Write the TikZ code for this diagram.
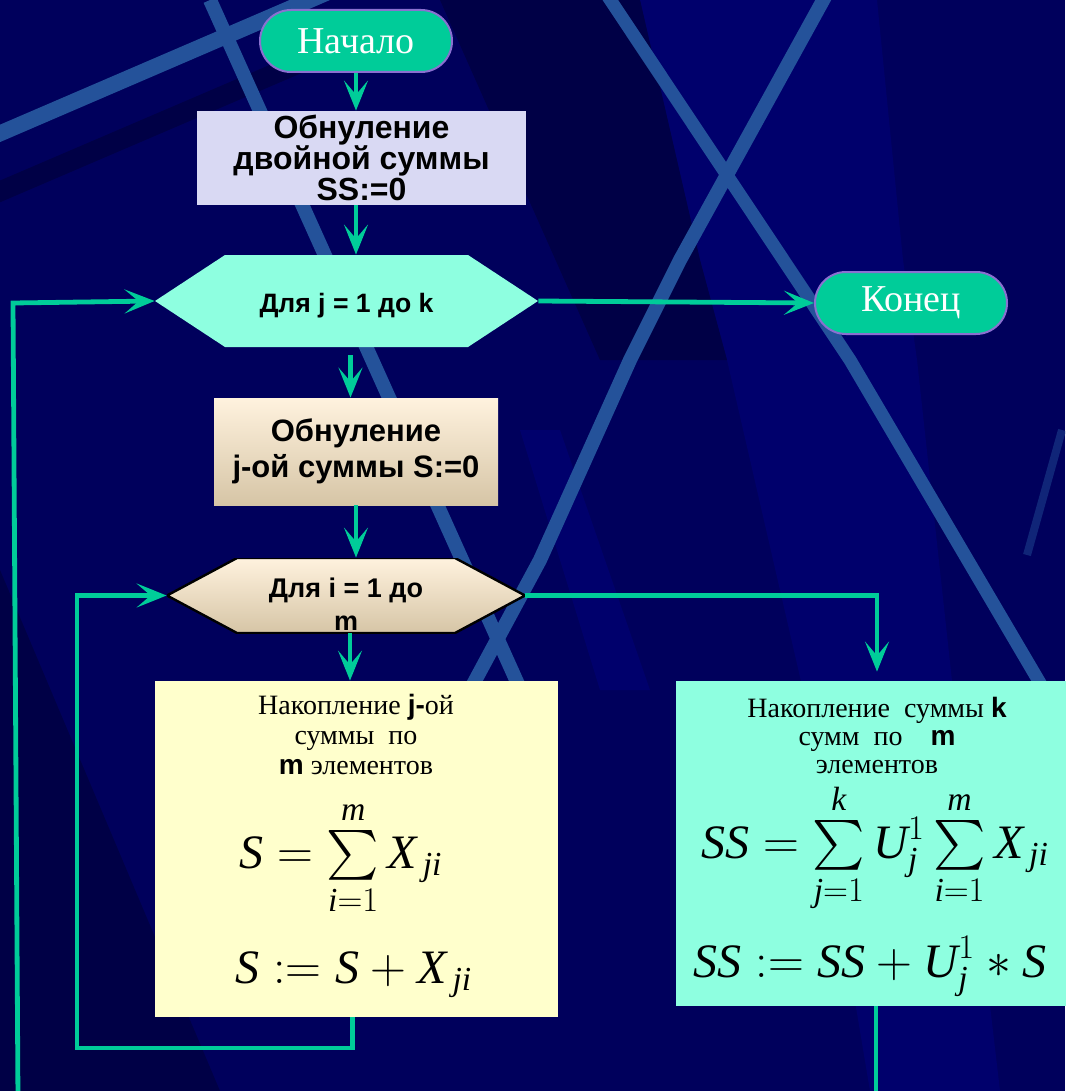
\documentclass[tikz,border=0pt]{standalone}
\usepackage{exscale}
\usepackage{amsmath}
\usepackage{fontspec}
\setmainfont{Liberation Serif}
\setsansfont{Liberation Sans}
\usetikzlibrary{shapes.misc,arrows.meta}

\definecolor{slidebg}{HTML}{00005C}
\definecolor{lightbg}{HTML}{00006C}
\definecolor{darkbg}{HTML}{000046}
\definecolor{stripecol}{HTML}{24529A}
\definecolor{flow}{HTML}{00CC99}
\definecolor{termline}{HTML}{8A70D0}
\definecolor{lavender}{HTML}{D9D9F3}
\definecolor{aqua}{HTML}{8EFFE0}
\definecolor{paleyellow}{HTML}{FFFFCC}
\definecolor{creamtop}{HTML}{FFF2DE}
\definecolor{creambot}{HTML}{D6C5A6}

% italic letters of the formulas
\newcommand{\mv}[1]{\textit{#1}}

\begin{document}
\begin{tikzpicture}[x=0.5pt, y=-0.5pt,
    flowline/.style={draw=flow, line width=2.4pt},
    flowarrow/.style={flowline, -{Stealth[length=15pt, width=12pt, inset=7pt]}},
    term/.style={rounded rectangle, fill=flow, draw=termline, line width=1pt,
        text=white, font=\fontsize{19}{19}\selectfont,
        minimum width=96pt, minimum height=31pt, inner sep=0pt},
    proc/.style={rectangle, align=center, inner sep=0pt,
        font=\sffamily\bfseries\fontsize{16}{15.5}\selectfont},
    hexa/.style={inner sep=0pt, path picture={
        \path[#1] (path picture bounding box.west)
            -- ([xshift=35pt]path picture bounding box.north west)
            -- ([xshift=-35pt]path picture bounding box.north east)
            -- (path picture bounding box.east)
            -- ([xshift=-35pt]path picture bounding box.south east)
            -- ([xshift=35pt]path picture bounding box.south west)
            -- cycle;}},
    hextext/.style={align=center, inner sep=0pt},
    acctext/.style={align=center, inner sep=0pt, anchor=north,
        font=\fontsize{14}{15}\selectfont},
    accmath/.style={inner sep=0pt, anchor=base,
        font=\fontsize{24}{28}\selectfont},
    stripe/.style={draw=stripecol, line width=#1, line join=round},
]
    \useasboundingbox (0,0) rectangle (1065,1091);

    % Background
    \begin{scope}
    \clip (0,0) rectangle (1065,1091);
    \fill[slidebg] (0,0) rectangle (1065,1091);
    \fill[lightbg] (640,0) -- (877,0) -- (903,260) -- (917,360) -- (953,690)
        -- (1000,1091) -- (870,1091) -- (803,690) -- (727,360) -- (700,260) -- cycle;
    \fill[lightbg] (520,430) -- (560,430) -- (650,690) -- (600,690) -- cycle;
    \fill[darkbg] (0,570) -- (220,1091) -- (0,1091) -- cycle;
    \fill[darkbg] (440,0) -- (640,0) -- (700,260) -- (727,360) -- (600,360) -- cycle;
    \draw[darkbg, line width=10pt] (-20,200) -- (330,50);
    \draw[stripe=8pt] (-20,142) -- (340,-13);
    \draw[stripe=7pt] (210,0) -- (540,733);
    \draw[stripe=6.5pt] (607,-5) -- (850,360) -- (1050,700);
    \draw[stripe=7pt] (826,-5) -- (680,260) -- (630,360) -- (540,560) -- (470,690);
    \draw[stripe=4pt, stripecol!45!slidebg] (1062,430) -- (1027,555);
    \end{scope}

    % Terminators
    \node[term] (start) at (356,41) {Начало};
    \node[term] (finish) at (911,303) {Конец};

    % Zeroing and loops
    \node[proc, fill=lavender, minimum width=164.5pt, minimum height=47pt]
        (zeroall) at (361.5,158) {Обнуление\\двойной суммы\\SS:=0};
    \node[hexa={fill=aqua}, minimum width=191.5pt, minimum height=46pt] (loopj) at (346.5,301) {};
    \node[hextext, font=\sffamily\bfseries\fontsize{13.3}{15}\selectfont]
        (loopjtext) at ([yshift=-2.5pt]loopj.center) {Для j = 1 до k};
    \node[proc, top color=creamtop, bottom color=creambot,
        minimum width=142pt, minimum height=53.5pt,
        font=\sffamily\bfseries\fontsize{15.5}{18}\selectfont]
        (zeroj) at (356,451.5) {Обнуление\\j-ой суммы S:=0};
    \node[hexa={top color=creamtop, bottom color=creambot, draw=black, line width=1.2pt},
        minimum width=179pt, minimum height=37.5pt] (loopi) at (346,595.5) {};
    \node[hextext, font=\sffamily\bfseries\fontsize{13.5}{16.5}\selectfont]
        (loopitext) at ([yshift=-4.5pt]loopi.center) {Для i = 1 до\\m};

    % Accumulation of the j-th sum
    \node[fill=paleyellow, minimum width=201.5pt, minimum height=168pt] (accj) at (356.5,849) {};
    \node[acctext] (accjtext) at (356,694)
        {Накопление {\sffamily\bfseries j-}ой\\суммы\enspace по\\{\sffamily\bfseries m} элементов};
    \node[accmath] (accjsum) at (341,868) {$\mv{S}=\sum\limits_{\mv{i}=1}^{\mv{m}}\mv{X}_{\,\mv{ji}}$};
    \node[accmath] (accjstep) at (354,983) {$\mv{S}:=\mv{S}+\mv{X}_{\,\mv{ji}}$};

    % Accumulation of the double sum
    \node[fill=aqua, minimum width=196pt, minimum height=162.5pt] (acck) at (872,843.5) {};
    \node[acctext, font=\fontsize{14}{14}\selectfont] (accktext) at (877,697)
        {Накопление\enspace суммы {\sffamily\bfseries k}\\сумм\enspace по\enspace\enspace{\sffamily\bfseries m}\\элементов};
    \node[accmath] (accksum) at (875,858)
        {$\mv{SS}=\sum\limits_{\mv{j}=1}^{\mv{k}}\mv{U}_{\mv{j}}^1\sum\limits_{\mv{i}=1}^{\mv{m}}\mv{X}_{\,\mv{ji}}$};
    \node[accmath] (acckstep) at (870,977) {$\mv{SS}:=\mv{SS}+\mv{U}_{\mv{j}}^1*\mv{S}$};

    % Connectors
    \coordinate (innercorner) at (77,1048);
    \coordinate (outerin) at (18,1100);
    \coordinate (outercorner) at (13,303);
    \coordinate (outerout) at (876,1100);

    \draw[flowarrow] (start.south) -- (start.south |- zeroall.north);
    \draw[flowarrow] (start |- zeroall.south) -- (start |- loopj.north);
    \draw[flowarrow, shorten <=4pt] ([xshift=2pt]loopj.south) -- ([xshift=2pt]loopj.south |- zeroj.north);
    \draw[flowarrow] (zeroj.south) -- (zeroj.south |- loopi.north);
    \draw[flowarrow] ([xshift=2pt]loopi.south) -- ([xshift=2pt]loopi.south |- accj.north);
    \draw[flowarrow] (loopj.east) -- (finish.west);
    \draw[flowarrow, shorten >=4.5pt] (loopi.east) -| ([xshift=2.5pt]acck.north);
    \draw[flowarrow] ([xshift=-2pt]accj.south) -- ([xshift=-2pt]accj.south |- innercorner)
        -- (innercorner) |- (loopi.west);
    \draw[flowarrow] (outerin) -- (outercorner) -- (loopj.west);
    \draw[flowline] ([xshift=2pt]acck.south) -- ([xshift=2pt]acck.south |- outerout);
\end{tikzpicture}
\end{document}
